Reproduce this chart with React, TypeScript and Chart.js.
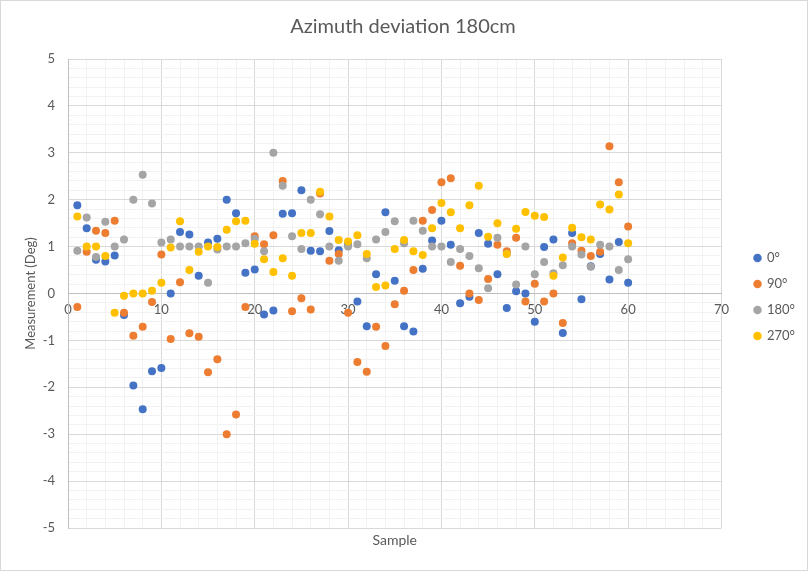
import React, { useEffect, useRef } from "react";
import { Chart, registerables } from "chart.js";

Chart.register(...registerables);

const samples = [
  1, 2, 3, 4, 5, 6, 7, 8, 9, 10, 11, 12, 13, 14, 15, 16, 17, 18, 19, 20,
  21, 22, 23, 24, 25, 26, 27, 28, 29, 30, 31, 32, 33, 34, 35, 36, 37, 38, 39, 40,
  41, 42, 43, 44, 45, 46, 47, 48, 49, 50, 51, 52, 53, 54, 55, 56, 57, 58, 59, 60,
];

const series0 = [
  1.88, 1.39, 0.72, 0.68, 0.81, -0.46, -1.96, -2.47, -1.66, -1.59,
  0.0, 1.31, 1.26, 0.38, 1.09, 1.17, 2.0, 1.71, 0.44, 0.51,
  -0.45, -0.36, 1.7, 1.71, 2.2, 0.91, 0.9, 1.33, 0.92, 1.05,
  -0.17, -0.7, 0.41, 1.73, 0.27, -0.7, -0.81, 0.53, 1.13, 1.55,
  1.04, -0.21, -0.07, 1.29, 1.06, 0.41, -0.31, 0.05, 0.0, -0.6,
  0.99, 1.15, -0.84, 1.29, -0.12, 0.58, 0.84, 0.3, 1.1, 0.23,
];

const series90 = [
  -0.29, 0.89, 1.34, 1.29, 1.55, -0.41, -0.9, -0.71, -0.18, 0.83,
  -0.97, 0.24, -0.85, -0.92, -1.68, -1.4, -3.0, -2.58, -0.29, 1.22,
  1.05, 1.24, 2.4, -0.38, -0.1, -0.34, 2.13, 0.7, 0.84, -0.41,
  -1.46, -1.67, -0.71, -1.12, -0.23, 0.06, 0.5, 1.55, 1.78, 2.37,
  2.46, 0.59, 0.0, -0.14, 0.31, 1.04, 0.9, 1.19, -0.17, 0.21,
  -0.17, 0.0, -0.63, 1.07, 0.91, 0.8, 0.89, 3.14, 2.37, 1.43,
];

const series180 = [
  0.91, 1.62, 0.78, 1.53, 1.0, 1.15, 2.0, 2.53, 1.92, 1.09,
  1.15, 1.0, 1.0, 1.0, 0.23, 0.94, 1.0, 1.0, 1.07, 1.17,
  0.9, 3.0, 2.3, 1.22, 0.95, 2.0, 1.69, 1.0, 0.7, 1.0,
  1.05, 0.75, 1.15, 1.31, 1.54, 1.07, 1.55, 1.34, 1.0, 1.0,
  0.67, 0.95, 0.8, 0.54, 0.11, 1.19, 0.85, 0.19, 1.0, 0.41,
  0.67, 0.43, 0.6, 1.0, 0.83, 0.57, 1.04, 1.0, 0.5, 0.73,
];

const series270 = [
  1.64, 1.0, 1.0, 0.8, -0.41, -0.05, 0.0, 0.0, 0.06, 0.23,
  0.98, 1.54, 0.5, 0.89, 1.0, 0.99, 1.36, 1.54, 1.55, 1.06,
  0.73, 0.46, 0.75, 0.38, 1.29, 1.29, 2.17, 1.64, 1.14, 1.11,
  1.24, 0.84, 0.14, 0.17, 0.95, 1.14, 0.9, 0.82, 1.39, 1.93,
  1.73, 1.39, 1.88, 2.3, 1.21, 1.5, 0.84, 1.38, 1.74, 1.66,
  1.63, 0.38, 0.77, 1.4, 1.2, 1.15, 1.9, 1.79, 2.11, 1.07,
];

const seriesLabels = ["0°", "90°", "180°", "270°"];
const seriesColors = ["#4472C4", "#ED7D31", "#A5A5A5", "#FFC000"];

const xMin = 0;
const xMax = 70;
const xStep = 2;
const xLabelEvery = 10;
const yMin = -5;
const yMax = 5;
const yStep = 0.2;

const textColor = "#595959";
const fontFamily = "Lato, 'Open Sans', sans-serif";

const isInt = (v: number) => Math.abs(v - Math.round(v)) < 1e-6;

export default function App() {
  const ref = useRef<HTMLCanvasElement>(null);

  useEffect(() => {
    document.body.style.margin = "0";
    const canvas = ref.current;
    if (!canvas) return;
    const allSeries = [series0, series90, series180, series270];
    const chart = new Chart(canvas, {
      type: "scatter",
      data: {
        datasets: allSeries.map((vals, k) => ({
          label: seriesLabels[k],
          data: samples.map((s, i) => ({ x: s, y: vals[i] })),
          backgroundColor: seriesColors[k],
          borderColor: seriesColors[k],
          borderWidth: 0,
          pointRadius: 4,
          pointHoverRadius: 4,
          pointStyle: "circle",
          order: allSeries.length - k,
          xAxisID: "x",
          yAxisID: "y",
        })),
      },
      options: {
        animation: false,
        responsive: false,
        devicePixelRatio: 1,
        events: [],
        layout: { padding: { left: 0, right: 2, top: 0, bottom: 0 } },
        plugins: {
          tooltip: { enabled: false },
          title: {
            display: true,
            text: "Azimuth deviation 180cm",
            color: textColor,
            font: { family: fontFamily, size: 20, weight: "normal" },
            padding: { top: 14, bottom: 20 },
          },
          legend: {
            position: "right",
            align: "center",
            title: {
              display: true,
              text: " ",
              font: { size: 10 },
              padding: { top: 0, bottom: 11 },
            },
            labels: {
              usePointStyle: true,
              pointStyle: "circle",
              boxWidth: 6,
              boxHeight: 6,
              padding: 13,
              color: textColor,
              font: { family: fontFamily, size: 13 },
              sort: (a: any, b: any) => a.datasetIndex - b.datasetIndex,
            },
          },
        },
        scales: {
          x: {
            type: "linear",
            position: { y: 0 } as any,
            min: xMin,
            max: xMax,
            ticks: {
              stepSize: xStep,
              autoSkip: false,
              maxRotation: 0,
              padding: 9,
              color: textColor,
              font: { family: fontFamily, size: 13 },
              callback: (v: any) =>
                Math.round(Number(v)) % xLabelEvery === 0 ? String(Math.round(Number(v))) : "",
            },
            grid: {
              drawTicks: false,
              color: (c: any) => {
                const v = c.tick ? c.tick.value : 1;
                if (v === 0) return "#bfbfbf";
                return v % xLabelEvery === 0 ? "#d9d9d9" : "#f2f2f2";
              },
            },
            border: { color: "#bfbfbf" },
          },
          y: {
            type: "linear",
            position: "left",
            min: yMin,
            max: yMax,
            ticks: {
              stepSize: yStep,
              autoSkip: false,
              padding: 13,
              color: textColor,
              font: { family: fontFamily, size: 13 },
              callback: (v: any) => (isInt(Number(v)) ? String(Math.round(Number(v))) : ""),
            },
            grid: {
              drawTicks: false,
              color: (c: any) => {
                const v = c.tick ? c.tick.value : 1;
                if (Math.abs(v) < 1e-6) return "#bfbfbf";
                return isInt(v) ? "#d9d9d9" : "#f2f2f2";
              },
            },
            border: { color: "#bfbfbf" },
            title: {
              display: true,
              text: "Measurement (Deg)",
              color: textColor,
              font: { family: fontFamily, size: 13 },
              padding: { top: 22, bottom: 0 },
            },
            afterFit: (s: any) => {
              s.width = 67;
            },
          },
          x2: {
            type: "linear",
            position: "bottom",
            min: xMin,
            max: xMax,
            ticks: { display: false },
            grid: { display: false, drawTicks: false },
            border: { display: false },
            title: {
              display: true,
              text: "Sample",
              color: textColor,
              font: { family: fontFamily, size: 14 },
              padding: { top: 0, bottom: 21 },
            },
            afterFit: (s: any) => {
              s.height = 42;
            },
          },
          y2: {
            type: "linear",
            position: "right",
            min: yMin,
            max: yMax,
            ticks: { display: false },
            grid: { display: false, drawTicks: false },
            border: { display: false },
            afterFit: (s: any) => {
              s.width = 20;
            },
          },
        },
      } as any,
    });
    return () => chart.destroy();
  }, []);

  return (
    <div
      style={{
        width: 808,
        height: 571,
        boxSizing: "border-box",
        border: "1px solid #d9d9d9",
        background: "#ffffff",
      }}
    >
      <canvas ref={ref} width={806} height={569} style={{ display: "block", width: 806, height: 569 }} />
    </div>
  );
}
